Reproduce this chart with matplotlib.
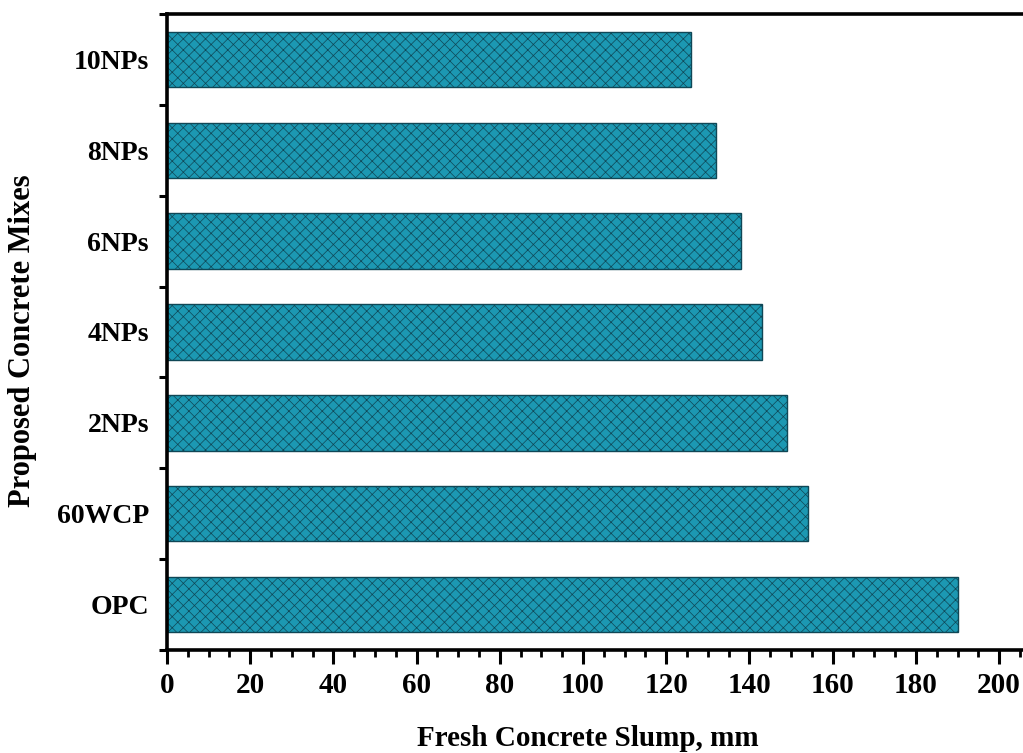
import matplotlib
matplotlib.use('Agg')
import matplotlib.pyplot as plt
from matplotlib.ticker import MultipleLocator, FixedLocator, NullFormatter
import numpy as np

# fresh concrete slump for each mix (bottom to top)
mixes = ['OPC', '60WCP', '2NPs', '4NPs', '6NPs', '8NPs', '10NPs']
slump = [190, 154, 149, 143, 138, 132, 126]

plt.rcParams['font.family'] = ['Liberation Serif', 'DejaVu Serif']
plt.rcParams['font.weight'] = 'bold'
plt.rcParams['hatch.linewidth'] = 0.5

fig = plt.figure(figsize=(10.23, 7.53), dpi=100)
ax = fig.add_axes([0.1632, 0.1368, 0.8468, 0.8446])

y = np.arange(len(mixes))
ax.barh(y, slump, height=0.61, color='#1c98b2', edgecolor='#0f4756',
        linewidth=1.0, hatch='xxx')

ax.set_xlim(0, 208.2)
ax.set_ylim(-0.5, len(mixes) - 0.5)

# x ticks
ax.xaxis.set_major_locator(MultipleLocator(20))
ax.xaxis.set_minor_locator(MultipleLocator(5))
ax.tick_params(axis='x', which='major', direction='out', length=10, width=2.2,
               labelsize=21, pad=6)
ax.tick_params(axis='x', which='minor', direction='out', length=5, width=2.0)

# y: labels at bar centres, ticks between bars
ax.set_yticks(y)
ax.set_yticklabels(mixes)
ax.tick_params(axis='y', which='major', length=0, labelsize=20, pad=13)
ax.yaxis.set_minor_locator(FixedLocator(np.arange(-0.5, len(mixes), 1.0)))
ax.yaxis.set_minor_formatter(NullFormatter())
ax.tick_params(axis='y', which='minor', direction='out', length=6, width=2.2)

for side in ['left', 'bottom', 'top']:
    ax.spines[side].set_linewidth(2.6)
ax.spines['right'].set_visible(False)

ax.set_xlabel('Fresh Concrete Slump, mm', fontsize=21, fontweight='bold')
ax.set_ylabel('Proposed Concrete Mixes', fontsize=22, fontweight='bold')
ax.xaxis.set_label_coords(0.486, -0.118)
ax.yaxis.set_label_coords(-0.150, 0.487)

fig.savefig('out.png', dpi=100)
